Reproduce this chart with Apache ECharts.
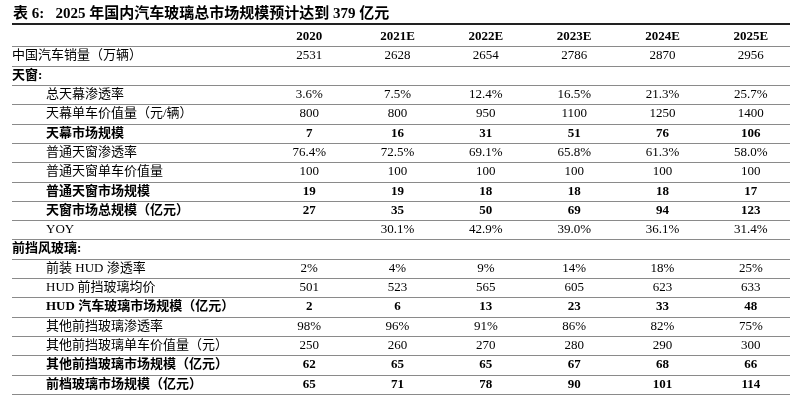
<!DOCTYPE html>
<html><head><meta charset="utf-8">
<script src="https://cdn.jsdelivr.net/npm/echarts@6/dist/echarts.min.js"></script>
<style>html,body{margin:0;background:#fff}#main{width:800px;height:400px}</style>
</head><body><div id="main"></div>
<script>
var years = ['2020', '2021E', '2022E', '2023E', '2024E', '2025E'];
var rowLabels = ['', '中国汽车销量（万辆）', '天窗:', '总天幕渗透率', '天幕单车价值量（元/辆）', '天幕市场规模',
  '普通天窗渗透率', '普通天窗单车价值量', '普通天窗市场规模', '天窗市场总规模（亿元）', 'YOY', '前挡风玻璃:',
  '前装 HUD 渗透率', 'HUD 前挡玻璃均价', 'HUD 汽车玻璃市场规模（亿元）', '其他前挡玻璃渗透率',
  '其他前挡玻璃单车价值量（元）', '其他前挡玻璃市场规模（亿元）', '前档玻璃市场规模（亿元）'];
var rowValues = [
  years,
  ['2531', '2628', '2654', '2786', '2870', '2956'],
  ['', '', '', '', '', ''],
  ['3.6%', '7.5%', '12.4%', '16.5%', '21.3%', '25.7%'],
  ['800', '800', '950', '1100', '1250', '1400'],
  ['7', '16', '31', '51', '76', '106'],
  ['76.4%', '72.5%', '69.1%', '65.8%', '61.3%', '58.0%'],
  ['100', '100', '100', '100', '100', '100'],
  ['19', '19', '18', '18', '18', '17'],
  ['27', '35', '50', '69', '94', '123'],
  ['', '30.1%', '42.9%', '39.0%', '36.1%', '31.4%'],
  ['', '', '', '', '', ''],
  ['2%', '4%', '9%', '14%', '18%', '25%'],
  ['501', '523', '565', '605', '623', '633'],
  ['2', '6', '13', '23', '33', '48'],
  ['98%', '96%', '91%', '86%', '82%', '75%'],
  ['250', '260', '270', '280', '290', '300'],
  ['62', '65', '65', '67', '68', '66'],
  ['65', '71', '78', '90', '101', '114']
];
var boldRows = [0, 2, 5, 8, 9, 11, 14, 17, 18];
var topRows = [0, 1, 2, 11];

var font = '"Liberation Serif", "Noto Sans CJK SC", serif';
var cells = [];
rowValues.forEach(function (r, i) {
  r.forEach(function (v, j) { cells.push([j, i, v]); });
});
var rowIdx = rowLabels.map(function (d, i) { return [0, i]; });

var chart = echarts.init(document.getElementById('main'));
chart.setOption({
  animation: false,
  textStyle: { fontFamily: font },
  title: {
    text: '表 6:   2025 年国内汽车玻璃总市场规模预计达到 379 亿元',
    left: 8, top: 2,
    textStyle: { fontSize: 15, fontWeight: 'bold', color: '#000', fontFamily: font }
  },
  graphic: [{ type: 'line', shape: { x1: 12, y1: 24, x2: 790, y2: 24 }, style: { stroke: '#222', lineWidth: 2 } }],
  grid: { left: 265, right: 5, top: 27, bottom: 6 },
  xAxis: { type: 'category', data: years, show: false },
  yAxis: {
    type: 'category', inverse: true, data: rowLabels,
    axisLine: { show: false }, axisTick: { show: false },
    axisLabel: {
      align: 'left', margin: 253,
      formatter: function (v, i) {
        var bold = boldRows.indexOf(i) >= 0;
        var ind = topRows.indexOf(i) < 0;
        return '{' + (bold ? 'b' : 'n') + (ind ? 'i' : '') + '|' + v + '}';
      },
      rich: {
        n: { fontSize: 13, color: '#000', fontFamily: font },
        b: { fontSize: 13, color: '#000', fontWeight: 'bold', fontFamily: font },
        ni: { fontSize: 13, color: '#000', fontFamily: font, padding: [0, 0, 0, 34] },
        bi: { fontSize: 13, color: '#000', fontWeight: 'bold', fontFamily: font, padding: [0, 0, 0, 34] }
      }
    }
  },
  series: [{
    type: 'custom',
    data: rowIdx,
    renderItem: function (params, api) {
      var p = api.coord([0, api.value(1)]);
      var h = api.size([0, 1])[1];
      var y = Math.round(p[1] + h / 2) + 0.5;
      return { type: 'line', shape: { x1: 12, y1: y, x2: 790, y2: y }, style: { stroke: '#8a8a8a', lineWidth: 1 } };
    }
  }, {
    type: 'custom',
    data: cells,
    encode: { x: 0, y: 1 },
    renderItem: function (params, api) {
      var p = api.coord([api.value(0), api.value(1)]);
      var row = api.value(1);
      return {
        type: 'text', x: p[0], y: p[1],
        style: {
          text: cells[params.dataIndex][2], fill: '#000', align: 'center', verticalAlign: 'middle',
          font: (boldRows.indexOf(row) >= 0 ? 'bold ' : '') + '13px ' + font
        }
      };
    }
  }]
});
</script></body></html>
